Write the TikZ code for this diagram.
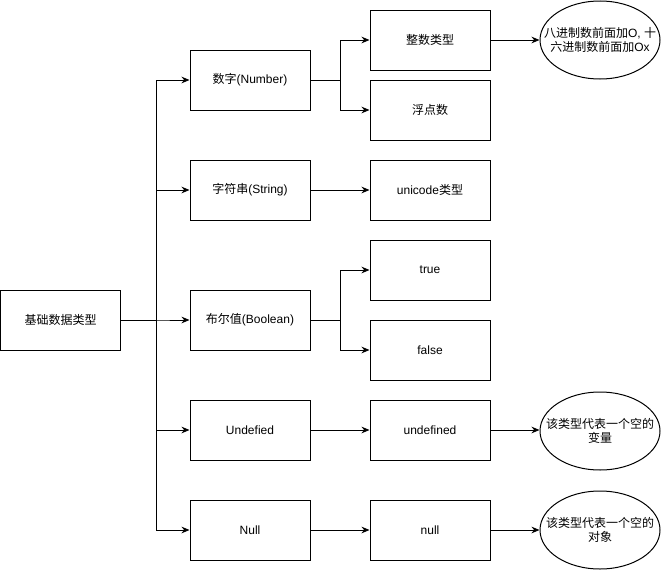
\documentclass[tikz,border=0pt]{standalone}
\usepackage{fontspec}
\setmainfont{Liberation Sans}
\newfontfamily\cjk{Noto Sans CJK SC}
\usetikzlibrary{arrows.meta,shapes.geometric}
\newcommand{\zl}[1]{\makebox[0pt][c]{#1}}
\tikzset{
  box/.style={draw, line width=0.75pt, minimum width=90pt, minimum height=45pt, inner sep=0pt, font=\fontsize{9}{11}\selectfont},
  oval/.style={draw, ellipse, line width=0.75pt, minimum width=90pt, minimum height=58.5pt, inner sep=0pt, align=center, font=\fontsize{9}{11}\selectfont},
  conn/.style={line width=0.75pt, -{Stealth[length=6pt,width=5pt]}}
}
\begin{document}
\begin{tikzpicture}[x=0.75pt,y=-0.75pt]
\useasboundingbox (0,0) rectangle (661,571);
% level 0
\node[box] (root) at (60.5,320) {\cjk 基础数据类型};
% level 1
\node[box] (num) at (250,80) {{\cjk 数字}(Number)};
\node[box] (str) at (250,190) {{\cjk 字符串}(String)};
\node[box] (bool) at (250,320) {{\cjk 布尔值}(Boolean)};
\node[box] (undef) at (250,430) {Undefied};
\node[box] (nul) at (250,530) {Null};
% level 2
\node[box] (int) at (430,40) {\cjk 整数类型};
\node[box] (flt) at (430,110) {\cjk 浮点数};
\node[box] (uni) at (430,190) {unicode{\cjk 类型}};
\node[box] (tru) at (430,270) {true};
\node[box] (fal) at (430,350) {false};
\node[box] (undv) at (430,430) {undefined};
\node[box] (nulv) at (430,530) {null};
% level 3
\node[oval] (e1) at (600,40) {\zl{{\cjk 八进制数前面加}O, {\cjk 十}}\\\zl{{\cjk 六进制数前面加}Ox}};
\node[oval] (e2) at (600,431) {\zl{\cjk 该类型代表一个空的}\\\zl{\cjk 变量}};
\node[oval] (e3) at (600,530) {\zl{\cjk 该类型代表一个空的}\\\zl{\cjk 对象}};
% connectors from root
\foreach \t in {num,str,bool,undef,nul}
  \draw[conn] (root.east) -- ++(35,0) |- (\t.west);
% number
\draw[conn] (num.east) -- ++(30,0) |- (int.west);
\draw[conn] (num.east) -- ++(30,0) |- (flt.west);
\draw[conn] (str.east) -- (uni.west);
\draw[conn] (bool.east) -- ++(30,0) |- (tru.west);
\draw[conn] (bool.east) -- ++(30,0) |- (fal.west);
\draw[conn] (undef.east) -- (undv.west);
\draw[conn] (nul.east) -- (nulv.west);
\draw[conn] (int.east) -- (e1.west);
\draw[conn] (undv.east) -- (e2.west |- undv.east);
\draw[conn] (nulv.east) -- (e3.west);
\end{tikzpicture}
\end{document}
